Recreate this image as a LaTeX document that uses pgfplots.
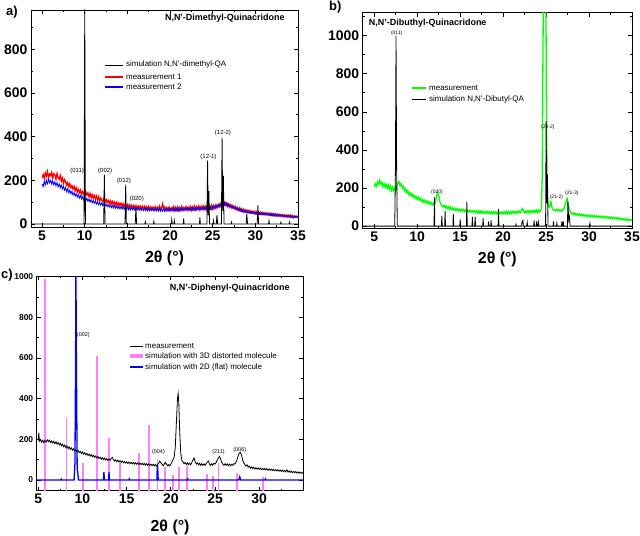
\documentclass[border=0pt]{standalone}
\usepackage{fontspec}
\setmainfont{Liberation Sans}
\usepackage{pgfplots}
\pgfplotsset{compat=1.18}
\definecolor{pinkc}{RGB}{255,128,255}
\definecolor{grn}{RGB}{0,255,0}
\tikzset{leg/.style={anchor=west, inner sep=0pt, font=\fontsize{8}{9}\selectfont}}
\begin{document}
\begin{tikzpicture}
\useasboundingbox (0,0) rectangle (640bp,-536bp);
\pgfplotsset{
 every axis/.append style={
  scale only axis, clip=true,
  axis line style={line width=0.8bp},
  tick align=inside,
  major tick length=4bp, minor tick length=2bp,
  every tick/.style={black, line width=0.7bp},
  tick label style={font=\fontsize{14}{14}\selectfont\bfseries},
  /pgf/number format/assume math mode=true,
  /pgf/number format/1000 sep={},
  label style={font=\fontsize{16}{16}\selectfont\bfseries},
  xlabel={2θ (°)}, xlabel style={yshift=-4bp},
  xtick={5,10,...,35}, minor xtick={7.5,12.5,...,32.5},
 },
}
% ---------------- panel a ----------------
\begin{axis}[at={(31bp,-227bp)}, anchor=south west, width=267bp, height=217bp,
  xmin=3.7, xmax=35, ymin=-14, ymax=980,
  ytick={0,200,...,800}, minor ytick={100,300,...,900}]
\addplot[red, line width=1.3bp] table[row sep=\\] {
5.000 212\\ 5.125 226\\ 5.250 208\\ 5.375 233\\ 5.500 219\\ 5.625 240\\ 5.750 214\\ 5.875 229\\
6.000 221\\ 6.125 236\\ 6.250 211\\ 6.375 230\\ 6.500 224\\ 6.625 206\\ 6.750 231\\ 6.875 213\\
7.000 205\\ 7.125 222\\ 7.250 196\\ 7.375 210\\ 7.500 187\\ 7.625 203\\ 7.750 194\\ 7.875 178\\
8.000 190\\ 8.125 171\\ 8.250 184\\ 8.375 166\\ 8.500 175\\ 8.625 160\\ 8.750 172\\ 8.875 152\\
9.000 165\\ 9.125 147\\ 9.250 158\\ 9.375 143\\ 9.500 155\\ 9.625 136\\ 9.750 149\\ 9.875 140\\
10.000 129\\ 10.125 147\\ 10.250 133\\ 10.375 142\\ 10.500 125\\ 10.625 139\\ 10.750 120\\ 10.875 134\\
11.000 118\\ 11.125 130\\ 11.250 114\\ 11.375 127\\ 11.500 110\\ 11.625 124\\ 11.750 105\\ 11.875 119\\
12.000 108\\ 12.125 101\\ 12.250 118\\ 12.375 99\\ 12.500 112\\ 12.625 97\\ 12.750 108\\ 12.875 94\\
13.000 106\\ 13.125 92\\ 13.250 103\\ 13.375 89\\ 13.500 100\\ 13.625 87\\ 13.750 98\\ 13.875 85\\
14.000 96\\ 14.125 84\\ 14.250 95\\ 14.375 81\\ 14.500 93\\ 14.625 80\\ 14.750 90\\ 14.875 79\\
15.000 89\\ 15.125 77\\ 15.250 88\\ 15.375 76\\ 15.500 86\\ 15.625 74\\ 15.750 85\\ 15.875 73\\
16.000 84\\ 16.125 72\\ 16.250 83\\ 16.375 71\\ 16.500 82\\ 16.625 70\\ 16.750 81\\ 16.875 69\\
17.000 80\\ 17.125 68\\ 17.250 79\\ 17.375 67\\ 17.500 80\\ 17.625 66\\ 17.750 78\\ 17.875 67\\
18.000 77\\ 18.125 65\\ 18.250 79\\ 18.375 66\\ 18.500 76\\ 18.625 64\\ 18.750 82\\ 18.875 67\\
19.000 75\\ 19.125 92\\ 19.250 70\\ 19.375 78\\ 19.500 63\\ 19.625 75\\ 19.750 64\\ 19.875 77\\
20.000 63\\ 20.125 74\\ 20.250 65\\ 20.375 79\\ 20.500 62\\ 20.625 76\\ 20.750 64\\ 20.875 78\\
21.000 62\\ 21.125 75\\ 21.250 64\\ 21.375 80\\ 21.500 63\\ 21.625 76\\ 21.750 65\\ 21.875 79\\
22.000 64\\ 22.125 77\\ 22.250 66\\ 22.375 80\\ 22.500 63\\ 22.625 78\\ 22.750 66\\ 22.875 81\\
23.000 65\\ 23.125 79\\ 23.250 67\\ 23.375 82\\ 23.500 64\\ 23.625 80\\ 23.750 67\\ 23.875 83\\
24.000 66\\ 24.125 81\\ 24.250 68\\ 24.375 84\\ 24.500 67\\ 24.625 82\\ 24.750 69\\ 24.875 85\\
25.000 68\\ 25.125 84\\ 25.250 71\\ 25.375 87\\ 25.500 74\\ 25.625 89\\ 25.750 78\\ 25.875 93\\
26.000 80\\ 26.125 97\\ 26.250 84\\ 26.375 99\\ 26.500 86\\ 26.625 96\\ 26.750 81\\ 26.875 92\\
27.000 77\\ 27.125 88\\ 27.250 73\\ 27.375 84\\ 27.500 70\\ 27.625 80\\ 27.750 66\\ 27.875 76\\
28.000 63\\ 28.125 73\\ 28.250 61\\ 28.375 70\\ 28.500 58\\ 28.625 67\\ 28.750 56\\ 28.875 65\\
29.000 54\\ 29.125 63\\ 29.250 52\\ 29.375 61\\ 29.500 50\\ 29.625 59\\ 29.750 49\\ 29.875 57\\
30.000 47\\ 30.125 56\\ 30.250 46\\ 30.375 55\\ 30.500 45\\ 30.625 54\\ 30.750 44\\ 30.875 52\\
31.000 43\\ 31.125 51\\ 31.250 42\\ 31.375 50\\ 31.500 41\\ 31.625 49\\ 31.750 40\\ 31.875 48\\
32.000 39\\ 32.125 47\\ 32.250 38\\ 32.375 46\\ 32.500 37\\ 32.625 45\\ 32.750 36\\ 32.875 44\\
33.000 35\\ 33.125 43\\ 33.250 34\\ 33.375 42\\ 33.500 33\\ 33.625 41\\ 33.750 32\\ 33.875 40\\
34.000 31\\ 34.125 39\\ 34.250 30\\ 34.375 38\\ 34.500 29\\ 34.625 37\\ 34.750 30\\ 34.875 36\\ 35.000 31\\
};
\addplot[blue, line width=0.8bp] table[row sep=\\] {
5.000 183\\ 5.125 170\\ 5.250 196\\ 5.375 178\\ 5.500 201\\ 5.625 184\\ 5.750 205\\ 5.875 188\\
6.000 200\\ 6.125 182\\ 6.250 198\\ 6.375 179\\ 6.500 193\\ 6.625 175\\ 6.750 190\\ 6.875 170\\
7.000 184\\ 7.125 166\\ 7.250 179\\ 7.375 160\\ 7.500 173\\ 7.625 155\\ 7.750 167\\ 7.875 148\\
8.000 161\\ 8.125 143\\ 8.250 155\\ 8.375 138\\ 8.500 150\\ 8.625 132\\ 8.750 144\\ 8.875 127\\
9.000 139\\ 9.125 122\\ 9.250 135\\ 9.375 118\\ 9.500 130\\ 9.625 114\\ 9.750 126\\ 9.875 110\\
10.000 122\\ 10.125 107\\ 10.250 118\\ 10.375 103\\ 10.500 115\\ 10.625 100\\ 10.750 111\\ 10.875 97\\
11.000 108\\ 11.125 94\\ 11.250 105\\ 11.375 91\\ 11.500 102\\ 11.625 88\\ 11.750 99\\ 11.875 86\\
12.000 96\\ 12.125 83\\ 12.250 94\\ 12.375 81\\ 12.500 91\\ 12.625 79\\ 12.750 89\\ 12.875 77\\
13.000 87\\ 13.125 75\\ 13.250 85\\ 13.375 73\\ 13.500 84\\ 13.625 72\\ 13.750 82\\ 13.875 70\\
14.000 81\\ 14.125 69\\ 14.250 80\\ 14.375 68\\ 14.500 79\\ 14.625 67\\ 14.750 78\\ 14.875 66\\
15.000 77\\ 15.125 65\\ 15.250 77\\ 15.375 64\\ 15.500 76\\ 15.625 64\\ 15.750 75\\ 15.875 63\\
16.000 75\\ 16.125 63\\ 16.250 74\\ 16.375 62\\ 16.500 74\\ 16.625 62\\ 16.750 73\\ 16.875 61\\
17.000 73\\ 17.125 61\\ 17.250 72\\ 17.375 60\\ 17.500 72\\ 17.625 60\\ 17.750 71\\ 17.875 60\\
18.000 71\\ 18.125 59\\ 18.250 71\\ 18.375 59\\ 18.500 70\\ 18.625 59\\ 18.750 70\\ 18.875 58\\
19.000 70\\ 19.125 58\\ 19.250 71\\ 19.375 58\\ 19.500 70\\ 19.625 59\\ 19.750 71\\ 19.875 58\\
20.000 70\\ 20.125 59\\ 20.250 71\\ 20.375 59\\ 20.500 72\\ 20.625 60\\ 20.750 71\\ 20.875 60\\
21.000 72\\ 21.125 60\\ 21.250 72\\ 21.375 61\\ 21.500 73\\ 21.625 61\\ 21.750 73\\ 21.875 62\\
22.000 74\\ 22.125 62\\ 22.250 74\\ 22.375 63\\ 22.500 75\\ 22.625 63\\ 22.750 75\\ 22.875 64\\
23.000 76\\ 23.125 64\\ 23.250 76\\ 23.375 65\\ 23.500 77\\ 23.625 65\\ 23.750 77\\ 23.875 66\\
24.000 78\\ 24.125 66\\ 24.250 78\\ 24.375 67\\ 24.500 79\\ 24.625 67\\ 24.750 80\\ 24.875 68\\
25.000 81\\ 25.125 70\\ 25.250 83\\ 25.375 72\\ 25.500 86\\ 25.625 76\\ 25.750 90\\ 25.875 80\\
26.000 95\\ 26.125 84\\ 26.250 99\\ 26.375 86\\ 26.500 97\\ 26.625 84\\ 26.750 93\\ 26.875 80\\
27.000 88\\ 27.125 76\\ 27.250 84\\ 27.375 72\\ 27.500 80\\ 27.625 68\\ 27.750 75\\ 27.875 64\\
28.000 71\\ 28.125 60\\ 28.250 68\\ 28.375 57\\ 28.500 65\\ 28.625 54\\ 28.750 62\\ 28.875 52\\
29.000 60\\ 29.125 50\\ 29.250 58\\ 29.375 48\\ 29.500 56\\ 29.625 47\\ 29.750 55\\ 29.875 46\\
30.000 54\\ 30.125 45\\ 30.250 53\\ 30.375 44\\ 30.500 52\\ 30.625 43\\ 30.750 51\\ 30.875 42\\
31.000 50\\ 31.125 41\\ 31.250 49\\ 31.375 40\\ 31.500 48\\ 31.625 39\\ 31.750 47\\ 31.875 38\\
32.000 46\\ 32.125 37\\ 32.250 45\\ 32.375 36\\ 32.500 44\\ 32.625 36\\ 32.750 43\\ 32.875 35\\
33.000 42\\ 33.125 34\\ 33.250 41\\ 33.375 33\\ 33.500 40\\ 33.625 33\\ 33.750 39\\ 33.875 32\\
34.000 38\\ 34.125 31\\ 34.250 37\\ 34.375 30\\ 34.500 36\\ 34.625 30\\ 34.750 35\\ 34.875 29\\ 35.000 34\\
};
\addplot[black, line width=0.8bp] coordinates {
(3.7,0)(9.92,0)(10.0,1000)(10.08,0)(12.22,0)(12.3,225)(12.38,0)(14.72,0)(14.8,180)(14.88,0)
(15.92,0)(16.0,75)(16.08,0)(17.05,0)(17.1,10)(17.15,0)(18.05,0)(18.1,12)(18.15,0)
(20.15,0)(20.2,20)(20.27,0)(20.45,0)(20.5,15)(20.55,0)(21.55,0)(21.6,25)(21.65,0)
(23.45,0)(23.5,30)(23.55,0)(24.32,0)(24.4,290)(24.47,40)(24.55,150)(24.63,0)
(25.05,0)(25.1,15)(25.15,0)(25.42,0)(25.5,40)(25.58,0)(26.02,0)(26.1,395)(26.17,60)(26.25,220)(26.33,0)
(27.15,0)(27.2,8)(27.25,0)(28.92,0)(29.0,45)(29.08,0)(30.22,0)(30.3,85)(30.38,0)
(31.55,0)(31.6,15)(31.65,0)(32.95,0)(33.0,8)(33.05,0)(33.95,0)(34.0,8)(34.05,0)(35,0)};
% legend
\draw[black, line width=0.8bp] (rel axis cs:0.277,0.747) -- ++(18bp,0bp);
\node[leg] at ([xshift=21bp]rel axis cs:0.277,0.747) {simulation N,N'-dimethyl-QA};
\draw[red, line width=1.5bp] (rel axis cs:0.277,0.692) -- ++(18bp,0bp);
\node[leg] at ([xshift=21bp]rel axis cs:0.277,0.692) {measurement 1};
\draw[blue, line width=1.2bp] (rel axis cs:0.277,0.645) -- ++(18bp,0bp);
\node[leg] at ([xshift=21bp]rel axis cs:0.277,0.645) {measurement 2};
\node[font=\fontsize{9}{9}\selectfont\bfseries, anchor=east] at (rel axis cs:0.963,0.963) {N,N'-Dimethyl-Quinacridone};
\begin{scope}[every node/.style={font=\fontsize{6}{6}\selectfont}]
\node at (axis cs:9.1,243) {(011)};
\node at (axis cs:12.4,243) {(002)};
\node at (axis cs:14.6,198) {(012)};
\node at (axis cs:16.1,116) {(020)};
\node at (axis cs:24.5,308) {(12-1)};
\node at (axis cs:26.2,415) {(12-2)};
\end{scope}
\end{axis}
% ---------------- panel b ----------------
\begin{axis}[at={(362.7bp,-228bp)}, anchor=south west, width=269.3bp, height=215.3bp,
  xmin=3.65, xmax=35, ymin=-10, ymax=1121,
  ytick={0,200,...,1000}, minor ytick={100,300,...,1100}]
\addplot[grn, line width=1.3bp] table[row sep=\\] {
5.000 206\\ 5.125 222\\ 5.250 210\\ 5.375 231\\ 5.500 218\\ 5.625 240\\ 5.750 221\\ 5.875 230\\
6.000 208\\ 6.125 225\\ 6.250 204\\ 6.375 219\\ 6.500 198\\ 6.625 215\\ 6.750 193\\ 6.875 210\\
7.000 188\\ 7.125 204\\ 7.250 185\\ 7.375 200\\ 7.500 182\\ 7.625 214\\ 7.750 226\\ 7.875 234\\
8.000 212\\ 8.125 222\\ 8.250 199\\ 8.375 208\\ 8.500 186\\ 8.625 196\\ 8.750 176\\ 8.875 186\\
9.000 167\\ 9.125 177\\ 9.250 160\\ 9.375 170\\ 9.500 153\\ 9.625 162\\ 9.750 146\\ 9.875 156\\
10.000 140\\ 10.125 151\\ 10.250 136\\ 10.375 145\\ 10.500 131\\ 10.625 140\\ 10.750 126\\ 10.875 136\\
11.000 122\\ 11.125 132\\ 11.250 118\\ 11.375 128\\ 11.500 114\\ 11.625 124\\ 11.750 111\\ 11.875 121\\
12.000 110\\ 12.125 128\\ 12.250 158\\ 12.375 174\\ 12.500 160\\ 12.625 130\\ 12.750 114\\ 12.875 106\\
13.000 100\\ 13.125 109\\ 13.250 96\\ 13.375 105\\ 13.500 92\\ 13.625 102\\ 13.750 89\\ 13.875 99\\
14.000 87\\ 14.125 96\\ 14.250 85\\ 14.375 94\\ 14.500 83\\ 14.625 92\\ 14.750 81\\ 14.875 90\\
15.000 79\\ 15.125 88\\ 15.250 78\\ 15.375 87\\ 15.500 76\\ 15.625 85\\ 15.750 75\\ 15.875 84\\
16.000 74\\ 16.125 83\\ 16.250 73\\ 16.375 82\\ 16.500 72\\ 16.625 81\\ 16.750 71\\ 16.875 80\\
17.000 70\\ 17.125 79\\ 17.250 69\\ 17.375 79\\ 17.500 68\\ 17.625 78\\ 17.750 68\\ 17.875 77\\
18.000 67\\ 18.125 77\\ 18.250 66\\ 18.375 76\\ 18.500 66\\ 18.625 76\\ 18.750 65\\ 18.875 75\\
19.000 65\\ 19.125 75\\ 19.250 64\\ 19.375 75\\ 19.500 64\\ 19.625 74\\ 19.750 64\\ 19.875 75\\
20.000 64\\ 20.125 75\\ 20.250 65\\ 20.375 76\\ 20.500 65\\ 20.625 76\\ 20.750 66\\ 20.875 77\\
21.000 66\\ 21.125 77\\ 21.250 67\\ 21.375 78\\ 21.500 67\\ 21.625 78\\ 21.750 68\\ 21.875 79\\
22.000 70\\ 22.125 84\\ 22.250 92\\ 22.375 80\\ 22.500 70\\ 22.625 80\\ 22.750 70\\ 22.875 81\\
23.000 70\\ 23.125 81\\ 23.250 71\\ 23.375 82\\ 23.500 71\\ 23.625 82\\ 23.750 72\\ 23.875 83\\
24.000 72\\ 24.125 83\\ 24.250 74\\ 24.375 84\\ 24.450 95\\ 24.550 260\\ 24.620 800\\ 24.680 1200\\
24.980 1200\\ 25.050 500\\ 25.150 160\\ 25.250 110\\ 25.350 98\\ 25.450 112\\ 25.560 128\\ 25.650 104\\
25.750 90\\ 25.875 84\\ 26.000 86\\ 26.125 80\\ 26.250 88\\ 26.375 79\\ 26.500 87\\ 26.625 78\\
26.750 86\\ 26.875 80\\ 27.000 88\\ 27.125 98\\ 27.250 120\\ 27.375 140\\ 27.450 145\\ 27.550 118\\
27.650 96\\ 27.750 80\\ 27.875 72\\ 28.000 64\\ 28.125 70\\ 28.250 60\\ 28.375 67\\ 28.500 58\\
28.625 65\\ 28.750 56\\ 28.875 63\\ 29.000 55\\ 29.125 62\\ 29.250 53\\ 29.375 60\\ 29.500 52\\
29.625 59\\ 29.750 51\\ 29.875 58\\ 30.000 50\\ 30.125 57\\ 30.250 49\\ 30.375 56\\ 30.500 48\\
30.625 55\\ 30.750 47\\ 30.875 54\\ 31.000 46\\ 31.125 53\\ 31.250 45\\ 31.375 52\\ 31.500 44\\
31.625 51\\ 31.750 43\\ 31.875 50\\ 32.000 42\\ 32.125 49\\ 32.250 41\\ 32.375 48\\ 32.500 40\\
32.625 47\\ 32.750 39\\ 32.875 46\\ 33.000 38\\ 33.125 45\\ 33.250 37\\ 33.375 44\\ 33.500 36\\
33.625 42\\ 33.750 34\\ 33.875 40\\ 34.000 33\\ 34.125 39\\ 34.250 31\\ 34.375 37\\ 34.500 30\\
34.625 36\\ 34.750 29\\ 34.875 35\\ 35.000 30\\
};
\addplot[black, line width=0.8bp] coordinates {
(3.65,0)(7.38,0)(7.46,300)(7.53,1000)(7.60,300)(7.68,0)(11.95,0)(12.0,151)(12.05,0)
(12.81,0)(12.86,53)(12.91,0)(13.19,0)(13.24,80)(13.29,0)(14.15,0)(14.2,63)(14.25,0)
(14.95,0)(15.0,35)(15.05,0)(15.72,0)(15.77,128)(15.82,0)(16.37,0)(16.42,49)(16.47,0)
(16.69,0)(16.74,49)(16.79,0)(17.62,0)(17.67,40)(17.72,0)(18.25,0)(18.3,25)(18.35,0)
(18.55,0)(18.6,30)(18.65,0)(19.41,0)(19.46,90)(19.51,0)(21.45,0)(21.5,10)(21.55,0)
(22.15,0)(22.2,25)(22.3,30)(22.35,0)(22.75,0)(22.8,20)(22.85,0)(23.55,0)(23.6,30)(23.65,0)
(23.85,0)(23.9,25)(23.95,0)(24.05,0)(24.1,20)(24.15,0)(24.94,0)(25.0,550)(25.08,120)(25.16,270)(25.22,0)
(25.81,0)(25.86,25)(25.91,0)(26.2,0)(26.25,15)(26.3,0)(26.79,0)(26.84,25)(26.89,0)(26.95,0)(27.0,25)(27.05,0)
(27.48,0)(27.54,130)(27.63,30)(27.73,50)(27.79,0)(30.05,0)(30.1,15)(30.15,0)(35,0)};
% legend
\draw[grn, line width=1.5bp] (rel axis cs:0.183,0.650) -- ++(14bp,0bp);
\node[leg] at ([xshift=17bp]rel axis cs:0.183,0.650) {measurement};
\draw[black, line width=0.8bp] (rel axis cs:0.183,0.599) -- ++(14bp,0bp);
\node[leg] at ([xshift=17bp]rel axis cs:0.183,0.599) {simulation N,N'-Dibutyl-QA};
\node[font=\fontsize{9}{9}\selectfont\bfseries, anchor=west] at (rel axis cs:0.01,0.952) {N,N'-Dibuthyl-Quinacridone};
\begin{scope}[every node/.style={font=\fontsize{5}{5}\selectfont}]
\node at (axis cs:7.6,1012) {(011)};
\node at (axis cs:12.3,180) {(020)};
\node at (axis cs:25.2,522) {(20-2)};
\node at (axis cs:26.2,151) {(21-2)};
\node at (axis cs:28.0,175) {(21-3)};
\end{scope}
\end{axis}
% ---------------- panel c ----------------
\begin{axis}[at={(36.7bp,-490.7bp)}, anchor=south west, width=266.7bp, height=214.7bp,
  xmin=4.82, xmax=35, ymin=-53, ymax=1003,
  xtick={5,10,...,30}, minor xtick={7.5,12.5,...,32.5},
  ytick={0,200,...,1000}, minor ytick={100,300,...,900},
  yticklabel style={font=\fontsize{8.5}{9}\selectfont\bfseries},
  xlabel style={yshift=-5bp},
  unbounded coords=jump]
\addplot[pinkc, line width=1.8bp] coordinates {
(5.76,-60)(5.76,987)(5.76,nan)(8.2,-60)(8.2,311)(8.2,nan)(10.1,-60)(10.1,85)(10.1,nan)
(11.6,-60)(11.6,610)(11.6,nan)(13.0,-60)(13.0,205)(13.0,nan)(14.24,-60)(14.24,82)(14.24,nan)
(16.4,-60)(16.4,131)(16.4,nan)(17.5,-60)(17.5,270)(17.5,nan)(18.5,-60)(18.5,103)(18.5,nan)
(19.3,-60)(19.3,62)(19.3,nan)(20.2,-60)(20.2,25)(20.2,nan)(20.9,-60)(20.9,65)(20.9,nan)
(21.8,-60)(21.8,69)(21.8,nan)(24.05,-60)(24.05,30)(24.05,nan)(24.8,-60)(24.8,21)(24.8,nan)
(25.4,-60)(25.4,82)(25.4,nan)(27.45,-60)(27.45,33)(27.45,nan)(30.45,-60)(30.45,16)};
\addplot[blue, line width=1.3bp] coordinates {
(4.82,0)(7.55,0)(7.6,4)(7.65,0)(9.05,0)(9.15,80)(9.22,600)(9.26,1050)(9.31,600)(9.4,60)(9.55,0)
(12.38,0)(12.43,40)(12.48,0)(12.95,0)(13.0,38)(13.05,0)(15.25,0)(15.3,5)(15.35,0)
(18.42,0)(18.47,72)(18.52,55)(18.57,0)(21.85,0)(21.9,5)(21.95,0)
(27.7,0)(27.8,15)(27.9,0)(30.65,0)(30.7,5)(30.75,0)(35,0)};
\addplot[black, line width=0.8bp] table[row sep=\\] {
5.000 195\\ 5.060 232\\ 5.125 190\\ 5.250 198\\ 5.375 186\\ 5.500 195\\ 5.625 184\\ 5.750 194\\ 5.875 186\\
6.000 198\\ 6.125 188\\ 6.250 196\\ 6.375 184\\ 6.500 192\\ 6.625 181\\ 6.750 190\\ 6.875 178\\
7.000 188\\ 7.125 176\\ 7.250 184\\ 7.375 172\\ 7.500 180\\ 7.625 168\\ 7.750 176\\ 7.875 163\\
8.000 172\\ 8.125 158\\ 8.250 167\\ 8.375 154\\ 8.500 162\\ 8.625 150\\ 8.750 158\\ 8.875 146\\
9.000 153\\ 9.125 142\\ 9.250 149\\ 9.375 138\\ 9.500 145\\ 9.625 134\\ 9.750 141\\ 9.875 130\\
10.000 138\\ 10.125 127\\ 10.250 134\\ 10.375 123\\ 10.500 131\\ 10.625 120\\ 10.750 127\\ 10.875 117\\
11.000 124\\ 11.125 114\\ 11.250 121\\ 11.375 111\\ 11.500 118\\ 11.625 108\\ 11.750 115\\ 11.875 105\\
12.000 112\\ 12.125 102\\ 12.250 109\\ 12.375 100\\ 12.500 107\\ 12.625 98\\ 12.750 105\\ 12.875 96\\
13.000 103\\ 13.125 95\\ 13.250 106\\ 13.375 111\\ 13.500 100\\ 13.625 93\\ 13.750 99\\ 13.875 90\\
14.000 97\\ 14.125 88\\ 14.250 95\\ 14.375 86\\ 14.500 93\\ 14.625 84\\ 14.750 91\\ 14.875 83\\
15.000 89\\ 15.125 81\\ 15.250 88\\ 15.375 80\\ 15.500 87\\ 15.625 79\\ 15.750 86\\ 15.875 78\\
16.000 85\\ 16.125 77\\ 16.250 84\\ 16.375 76\\ 16.500 83\\ 16.625 75\\ 16.750 82\\ 16.875 74\\
17.000 81\\ 17.125 73\\ 17.250 80\\ 17.375 72\\ 17.500 79\\ 17.625 71\\ 17.750 78\\ 17.875 70\\
18.000 77\\ 18.125 69\\ 18.250 76\\ 18.375 68\\ 18.500 75\\ 18.625 82\\ 18.750 92\\ 18.875 84\\
19.000 78\\ 19.125 70\\ 19.250 77\\ 19.375 86\\ 19.500 78\\ 19.625 70\\ 19.750 76\\ 19.875 69\\
20.000 78\\ 20.125 88\\ 20.250 100\\ 20.375 112\\ 20.500 160\\ 20.625 280\\ 20.750 400\\ 20.825 425\\
20.900 380\\ 21.000 240\\ 21.125 130\\ 21.250 95\\ 21.375 88\\ 21.500 80\\ 21.625 86\\ 21.750 76\\
21.875 84\\ 22.000 75\\ 22.125 82\\ 22.250 74\\ 22.375 86\\ 22.500 98\\ 22.625 108\\ 22.750 90\\
22.875 78\\ 23.000 84\\ 23.125 74\\ 23.250 82\\ 23.375 72\\ 23.500 80\\ 23.625 71\\ 23.750 79\\
23.875 72\\ 24.000 80\\ 24.125 88\\ 24.250 93\\ 24.375 78\\ 24.500 71\\ 24.625 80\\ 24.750 73\\
24.875 82\\ 25.000 78\\ 25.125 86\\ 25.250 98\\ 25.375 108\\ 25.500 116\\ 25.625 104\\ 25.750 88\\
25.875 78\\ 26.000 72\\ 26.125 80\\ 26.250 72\\ 26.375 79\\ 26.500 70\\ 26.625 78\\ 26.750 70\\
26.875 77\\ 27.000 72\\ 27.125 80\\ 27.250 78\\ 27.375 88\\ 27.500 100\\ 27.625 120\\ 27.750 132\\
27.875 136\\ 28.000 122\\ 28.125 98\\ 28.250 84\\ 28.375 76\\ 28.500 68\\ 28.625 74\\ 28.750 63\\
28.875 68\\ 29.000 58\\ 29.125 64\\ 29.250 56\\ 29.375 62\\ 29.500 54\\ 29.625 60\\ 29.750 53\\
29.875 59\\ 30.000 52\\ 30.125 58\\ 30.250 51\\ 30.375 57\\ 30.500 50\\ 30.625 56\\ 30.750 49\\
30.875 55\\ 31.000 48\\ 31.125 54\\ 31.250 47\\ 31.375 53\\ 31.500 46\\ 31.625 52\\ 31.750 45\\
31.875 51\\ 32.000 44\\ 32.125 50\\ 32.250 43\\ 32.375 49\\ 32.500 42\\ 32.625 48\\ 32.750 41\\
32.875 47\\ 33.000 40\\ 33.125 50\\ 33.250 39\\ 33.375 45\\ 33.500 37\\ 33.625 43\\ 33.750 36\\
33.875 42\\ 34.000 35\\ 34.125 41\\ 34.250 34\\ 34.375 40\\ 34.500 33\\ 34.625 39\\ 34.750 32\\
34.875 37\\ 35.000 31\\
};
% legend
\draw[black, line width=0.9bp] (rel axis cs:0.350,0.674) -- ++(13bp,0bp);
\node[leg] at ([xshift=15bp]rel axis cs:0.350,0.674) {measurement};
\draw[pinkc, line width=4bp] (rel axis cs:0.350,0.627) -- ++(13bp,0bp);
\node[leg] at ([xshift=15bp]rel axis cs:0.350,0.627) {simulation with 3D distorted molecule};
\draw[blue, line width=1.5bp] (rel axis cs:0.350,0.576) -- ++(13bp,0bp);
\node[leg] at ([xshift=15bp]rel axis cs:0.350,0.576) {simulation with 2D (flat) molecule};
\node[font=\fontsize{9}{9}\selectfont\bfseries, anchor=east] at (rel axis cs:0.961,0.944) {N,N'-Diphenyl-Quinacridone};
\begin{scope}[every node/.style={font=\fontsize{5.5}{5.5}\selectfont}]
\node at (axis cs:10.1,713) {(002)};
\node at (axis cs:18.6,136) {(004)};
\node at (axis cs:25.4,139) {(211)};
\node at (axis cs:27.8,148) {(006)};
\end{scope}
\end{axis}
% panel letters
\begin{scope}[every node/.style={font=\fontsize{13}{13}\selectfont\bfseries, anchor=north west, inner sep=0pt}]
\node at (6bp,-6bp) {a)};
\node at (329bp,-1bp) {b)};
\node at (1bp,-269bp) {c)};
\end{scope}
\end{tikzpicture}
\end{document}
